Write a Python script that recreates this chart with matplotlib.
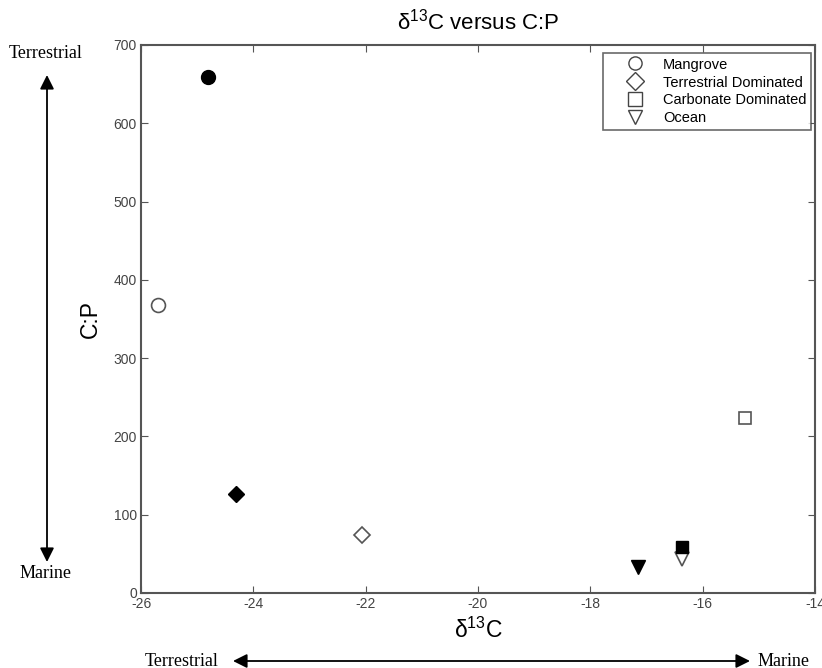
import matplotlib
matplotlib.use("Agg")
import matplotlib.pyplot as plt
from matplotlib.lines import Line2D
from matplotlib.patches import FancyArrowPatch

# Data
groups = ["Mangrove", "Terrestrial Dominated", "Carbonate Dominated", "Ocean"]
markers = ["o", "D", "s", "v"]
open_x = [-25.7, -22.07, -15.25, -16.36]
open_y = [368, 74, 223, 43]
filled_x = [-24.8, -24.3, -16.36, -17.16]
filled_y = [659, 126, 59, 33]
xticks = [-26, -24, -22, -20, -18, -16, -14]
yticks = [0, 100, 200, 300, 400, 500, 600, 700]

plt.rcParams['font.family'] = ['Liberation Sans', 'DejaVu Sans']
plt.rcParams['axes.unicode_minus'] = False
plt.rcParams['mathtext.default'] = 'regular'

fig = plt.figure(figsize=(8.22, 6.68), dpi=100)
ax = fig.add_axes([141/822, 1 - 593/668, 674/822, 548/668])

sizes = {"o": 10, "D": 8, "s": 9, "v": 10}
for m, x, y in zip(markers, open_x, open_y):
    ax.plot(x, y, marker=m, markersize=sizes[m], mfc="white", mec="#555555", mew=1.2, ls="none")
for m, x, y in zip(markers, filled_x, filled_y):
    ax.plot(x, y, marker=m, markersize=sizes[m], mfc="black", mec="black", mew=1.0, ls="none")

ax.set_xlim(-26, -14)
ax.set_ylim(0, 700)
ax.set_xticks(xticks)
ax.set_yticks(yticks)
ax.tick_params(direction="in", top=True, right=True, length=5, labelsize=10,
               labelcolor="#444444", color="#555555", pad=3)
for s in ax.spines.values():
    s.set_color("#555555")
    s.set_linewidth(1.5)

ax.set_title("δ$^{13}$C versus C:P", fontsize=16, pad=11)
ax.set_xlabel("δ$^{13}$C", fontsize=16.5, labelpad=5)
ax.set_ylabel("C:P", fontsize=16.5, labelpad=8)

handles = [Line2D([], [], marker=m, ls="none", mfc="white", mec="#444444", mew=1.0, markersize=9.5)
           for m in markers]
leg = ax.legend(handles, groups, loc="upper right", fontsize=10.5, frameon=True, fancybox=False,
                edgecolor="#444444", borderpad=0.3, handletextpad=0.05, labelspacing=0.27,
                handlelength=3.8, borderaxespad=0, bbox_to_anchor=(0.994, 0.985))
leg.get_frame().set_linewidth(1.2)

# Side annotations
serif = ['Liberation Serif', 'DejaVu Serif']
fig.text(46/822, 1 - 54/668, "Terrestrial", family=serif, fontsize=13, ha="center", va="center")
fig.text(46/822, 1 - 573/668, "Marine", family=serif, fontsize=13, ha="center", va="center")
astyle = "<|-|>,head_length=0.7,head_width=0.35"
fig.add_artist(FancyArrowPatch((47/822, 1 - 562/668), (47/822, 1 - 75/668),
               transform=fig.transFigure, arrowstyle=astyle, mutation_scale=12, lw=1.3,
               color="black", shrinkA=0, shrinkB=0))
fig.text(182/822, 1 - 661/668, "Terrestrial", family=serif, fontsize=13, ha="center", va="center")
fig.text(758/822, 1 - 661/668, "Marine", family=serif, fontsize=13, ha="left", va="center")
fig.add_artist(FancyArrowPatch((233/822, 1 - 661/668), (750/822, 1 - 661/668),
               transform=fig.transFigure, arrowstyle=astyle, mutation_scale=12, lw=1.3,
               color="black", shrinkA=0, shrinkB=0))

fig.savefig("out.png", dpi=100)
